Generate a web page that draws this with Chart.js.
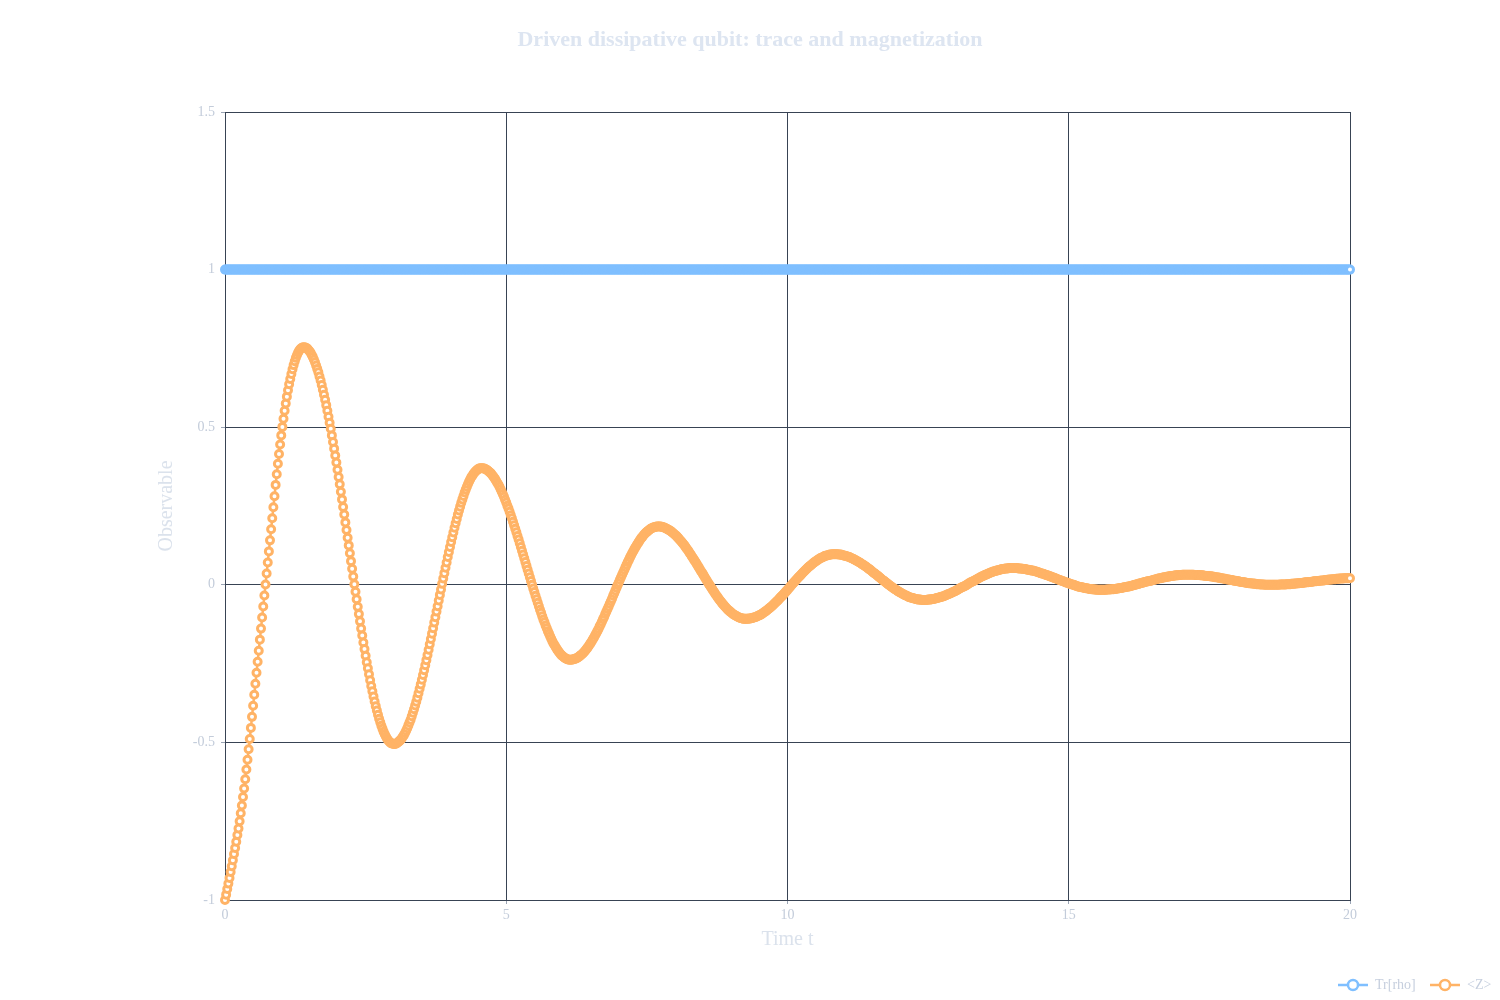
<!DOCTYPE html>
<html>
<head>
<meta charset="utf-8">
<script src="https://cdn.jsdelivr.net/npm/chart.js@4.4.1/dist/chart.umd.min.js"></script>
<style>
html,body{margin:0;padding:0;background:#ffffff;}
#wrap{width:1500px;height:1000px;position:relative;}
</style>
</head>
<body>
<div id="wrap"><canvas id="c" width="1500" height="1000"></canvas></div>
<script>
// ---- data ----
const seriesNames = ['Tr[rho]', '<Z>'];
const timeStep = 0.02;            // sampling interval of the simulation
const xTickStep = 5;
const yTickStep = 0.5;

// <Z>, one small array per half oscillation
const zHalf01 = [-1,-0.983,-0.965,-0.948,-0.930,-0.911,-0.893,-0.874,-0.854,-0.835,-0.815,
-0.794,-0.773,-0.750,-0.725,-0.700,-0.673,-0.646,-0.617,-0.586,-0.555,-0.522,-0.489,
-0.454,-0.419,-0.384,-0.349,-0.314,-0.279,-0.244,-0.209,-0.174,-0.139,-0.104,-0.069,-0.034,0.001,0.036,0.071,0.106,0.141,0.176,0.211,0.246,0.281,0.317,
0.351,0.384,0.415,0.445,0.474,0.501,0.527,0.552,0.575,0.597,0.617,0.636,0.653,0.669,0.684,0.697,0.709,0.720,0.729,0.737,0.743,0.748,0.751,0.753,0.754];
const zHalf02 = [0.753,0.752,0.750,0.746,0.742,0.737,0.730,0.723,0.715,0.706,
0.696,0.685,0.674,0.661,0.648,0.634,0.619,0.603,0.587,0.570,
0.552,0.533,0.514,0.495,0.474,0.453,0.432,0.410,0.388,0.365,
0.342,0.319,0.295,0.271,0.247,0.223,0.198,0.174,0.149,0.125,
0.100,0.075,0.051,0.026,0.002,-0.022,-0.046,-0.070,-0.093,-0.116,
-0.139,-0.161,-0.183,-0.204,-0.225,-0.246,-0.265,-0.284,-0.303,-0.321,
-0.338,-0.354,-0.370,-0.385,-0.399,-0.412,-0.425,-0.436,-0.447,-0.457,
-0.466,-0.474,-0.481,-0.488,-0.493,-0.497,-0.501,-0.503,-0.504,-0.505];
const zHalf03 = [-0.505,-0.504,-0.502,-0.499,-0.496,-0.492,-0.488,-0.482,-0.477,-0.470,
-0.463,-0.455,-0.446,-0.437,-0.428,-0.417,-0.406,-0.395,-0.383,-0.371,
-0.358,-0.344,-0.330,-0.316,-0.301,-0.286,-0.271,-0.255,-0.239,-0.223,
-0.206,-0.189,-0.172,-0.155,-0.138,-0.120,-0.103,-0.085,-0.068,
-0.050,-0.032,-0.015,0.003,0.020,0.037,0.054,0.071,0.088,0.104,
0.120,0.136,0.151,0.166,0.181,0.195,0.209,0.223,0.236,0.248,
0.260,0.271,0.282,0.293,0.302,0.311,0.320,0.328,0.335,0.342,
0.347,0.353,0.357,0.361,0.364,0.367,0.369,0.370,0.370];
const zHalf04 = [0.370,0.369,0.368,0.366,0.364,0.361,0.358,0.355,0.351,0.346,
0.341,0.336,0.330,0.324,0.318,0.311,0.303,0.295,0.287,0.279,
0.270,0.261,0.251,0.242,0.232,0.221,0.211,0.200,0.189,0.178,
0.167,0.155,0.144,0.132,0.120,0.108,0.096,0.084,0.072,
0.060,0.048,0.036,0.024,0.012,0.000,-0.012,-0.023,-0.035,-0.046,
-0.057,-0.068,-0.079,-0.089,-0.100,-0.110,-0.119,-0.129,-0.138,-0.147,
-0.155,-0.163,-0.171,-0.179,-0.186,-0.192,-0.198,-0.204,-0.209,-0.214,
-0.219,-0.223,-0.226,-0.229,-0.232,-0.234,-0.236,-0.237,-0.238,-0.238];
const zHalf05 = [-0.238,-0.237,-0.236,-0.235,-0.234,-0.232,-0.230,-0.227,-0.224,-0.221,
-0.218,-0.214,-0.210,-0.205,-0.201,-0.196,-0.190,-0.185,-0.179,-0.173,
-0.167,-0.160,-0.154,-0.147,-0.140,-0.132,-0.125,-0.117,-0.109,-0.102,
-0.093,-0.085,-0.077,-0.069,-0.060,-0.052,-0.044,-0.035,-0.027,
-0.018,-0.009,-0.001,0.007,0.016,0.024,0.032,0.040,0.048,0.056,
0.064,0.072,0.079,0.087,0.094,0.101,0.107,0.114,0.120,0.126,
0.132,0.137,0.143,0.148,0.152,0.157,0.161,0.165,0.168,0.171,
0.174,0.177,0.179,0.181,0.182,0.183,0.184,0.185,0.185];
const zHalf06 = [0.185,0.185,0.184,0.183,0.182,0.181,0.179,0.177,0.175,0.173,
0.171,0.168,0.165,0.162,0.159,0.156,0.152,0.148,0.144,0.140,
0.136,0.131,0.127,0.122,0.117,0.112,0.107,0.101,0.096,0.090,
0.085,0.079,0.074,0.068,0.062,0.056,0.050,0.044,0.039,
0.033,0.027,0.021,0.015,0.009,0.003,-0.002,-0.008,-0.013,-0.019,
-0.024,-0.030,-0.035,-0.040,-0.045,-0.050,-0.054,-0.059,-0.063,-0.067,
-0.071,-0.075,-0.079,-0.082,-0.085,-0.088,-0.091,-0.094,-0.096,-0.098,
-0.100,-0.102,-0.104,-0.105,-0.106,-0.107,-0.108,-0.108,-0.108];
const zHalf07 = [-0.108,-0.108,-0.107,-0.107,-0.106,-0.105,-0.104,-0.103,-0.102,-0.100,
-0.098,-0.097,-0.095,-0.093,-0.090,-0.088,-0.085,-0.083,-0.080,-0.077,
-0.074,-0.071,-0.068,-0.065,-0.061,-0.058,-0.054,-0.051,-0.047,-0.043,
-0.039,-0.036,-0.032,-0.028,-0.024,-0.020,-0.016,-0.012,-0.008,
-0.003,0.001,0.005,0.009,0.013,0.017,0.021,0.025,0.028,0.032,
0.036,0.040,0.043,0.047,0.050,0.054,0.057,0.060,0.063,0.066,
0.069,0.072,0.074,0.077,0.079,0.082,0.084,0.086,0.087,0.089,
0.091,0.092,0.093,0.094,0.095,0.096,0.096,0.097,0.097,0.097];
const zHalf08 = [0.097,0.097,0.096,0.096,0.096,0.095,0.094,0.093,0.092,0.091,
0.090,0.089,0.088,0.086,0.084,0.083,0.081,0.079,0.077,0.075,
0.073,0.071,0.069,0.066,0.064,0.062,0.059,0.057,0.054,0.051,
0.049,0.046,0.043,0.040,0.037,0.035,0.032,0.029,0.026,
0.023,0.020,0.017,0.014,0.012,0.009,0.006,0.003,0.000,-0.002,
-0.005,-0.008,-0.010,-0.013,-0.015,-0.017,-0.020,-0.022,-0.024,-0.026,
-0.028,-0.030,-0.032,-0.034,-0.035,-0.037,-0.039,-0.040,-0.041,-0.042,
-0.043,-0.044,-0.045,-0.046,-0.047,-0.047,-0.047,-0.048,-0.048,-0.048];
const zHalf09 = [-0.048,-0.048,-0.048,-0.047,-0.047,-0.047,-0.046,-0.045,-0.045,-0.044,
-0.043,-0.042,-0.041,-0.040,-0.039,-0.038,-0.037,-0.036,-0.034,-0.033,
-0.031,-0.030,-0.028,-0.027,-0.025,-0.023,-0.022,-0.020,-0.018,-0.016,
-0.014,-0.012,-0.010,-0.008,-0.006,-0.005,-0.003,-0.001,0.001,
0.004,0.006,0.008,0.010,0.011,0.013,0.015,0.017,0.019,0.021,
0.023,0.025,0.027,0.028,0.030,0.032,0.033,0.035,0.036,0.038,
0.039,0.041,0.042,0.043,0.044,0.045,0.046,0.047,0.048,0.049,
0.050,0.050,0.051,0.052,0.052,0.052,0.053,0.053,0.053,0.053];
const zHalf10 = [0.053,0.053,0.053,0.053,0.052,0.052,0.052,0.051,0.051,0.050,
0.050,0.049,0.048,0.048,0.047,0.046,0.045,0.045,0.044,0.043,
0.042,0.041,0.040,0.038,0.037,0.036,0.035,0.034,0.032,0.031,
0.030,0.029,0.027,0.026,0.025,0.023,0.022,0.021,0.019,
0.018,0.016,0.015,0.014,0.012,0.011,0.010,0.008,0.007,0.006,
0.005,0.003,0.002,0.001,0.000,-0.001,-0.003,-0.004,-0.005,-0.006,
-0.007,-0.008,-0.008,-0.009,-0.010,-0.011,-0.011,-0.012,-0.013,-0.013,
-0.014,-0.014,-0.015,-0.015,-0.015,-0.016,-0.016,-0.016,-0.016,-0.016];
const zHalf11 = [-0.016,-0.016,-0.016,-0.016,-0.015,-0.015,-0.015,-0.015,-0.014,-0.014,
-0.014,-0.013,-0.013,-0.012,-0.012,-0.011,-0.010,-0.010,-0.009,-0.008,
-0.008,-0.007,-0.006,-0.005,-0.005,-0.004,-0.003,-0.002,-0.001,0.000,
0.001,0.002,0.003,0.004,0.005,0.006,0.007,0.008,
0.009,0.010,0.011,0.011,0.012,0.013,0.014,0.015,0.016,0.017,
0.018,0.019,0.020,0.021,0.021,0.022,0.023,0.024,0.024,0.025,
0.026,0.026,0.027,0.028,0.028,0.029,0.029,0.030,0.030,0.030,
0.031,0.031,0.031,0.032,0.032,0.032,0.032,0.032,0.032];
const zHalf12 = [0.032,0.032,0.032,0.032,0.032,0.031,0.031,0.031,0.031,0.031,
0.030,0.030,0.030,0.029,0.029,0.028,0.028,0.028,0.027,0.027,
0.026,0.026,0.025,0.024,0.024,0.023,0.023,0.022,0.021,0.021,
0.020,0.019,0.019,0.018,0.017,0.017,0.016,
0.015,0.015,0.014,0.013,0.013,0.012,0.011,0.011,0.010,0.009,
0.009,0.008,0.008,0.007,0.006,0.006,0.005,0.005,0.004,0.004,
0.004,0.003,0.003,0.002,0.002,0.002,0.001,0.001,0.001,0.001,
0.000,0.000,0.000,0.000,0.000,0.000,0.000];
const zHalf13 = [0.000,0.000,0.000,0.000,0.000,0.000,0.000,0.001,0.001,0.001,
0.001,0.001,0.001,0.002,0.002,0.002,0.002,0.003,0.003,0.003,
0.004,0.004,0.004,0.005,0.005,0.006,0.006,0.006,0.007,0.007,
0.008,0.008,0.008,0.009,0.009,0.010,0.010,0.011,0.011,
0.011,0.012,0.012,0.013,0.013,0.014,0.014,0.014,0.015,0.015,
0.016,0.016,0.017,0.017,0.017,0.018,0.018,0.018,0.019,0.019,
0.019,0.020,0.020,0.020,0.020,0.021,0.021,0.021,0.021,0.021,0.021];

const zValues = [].concat(zHalf01, zHalf02, zHalf03, zHalf04, zHalf05, zHalf06, zHalf07,
  zHalf08, zHalf09, zHalf10, zHalf11, zHalf12, zHalf13);

// Tr[rho]: constant 1 at every sample
const traceValues = [
1,1,1,1,1,1,1,1,1,1,1,1,1,1,1,1,1,1,1,1,1,1,1,1,1,1,1,1,1,1,1,1,1,1,1,1,1,1,1,1,1,1,1,1,1,1,1,1,1,1,
1,1,1,1,1,1,1,1,1,1,1,1,1,1,1,1,1,1,1,1,1,1,1,1,1,1,1,1,1,1,1,1,1,1,1,1,1,1,1,1,1,1,1,1,1,1,1,1,1,1,
1,1,1,1,1,1,1,1,1,1,1,1,1,1,1,1,1,1,1,1,1,1,1,1,1,1,1,1,1,1,1,1,1,1,1,1,1,1,1,1,1,1,1,1,1,1,1,1,1,1,
1,1,1,1,1,1,1,1,1,1,1,1,1,1,1,1,1,1,1,1,1,1,1,1,1,1,1,1,1,1,1,1,1,1,1,1,1,1,1,1,1,1,1,1,1,1,1,1,1,1,
1,1,1,1,1,1,1,1,1,1,1,1,1,1,1,1,1,1,1,1,1,1,1,1,1,1,1,1,1,1,1,1,1,1,1,1,1,1,1,1,1,1,1,1,1,1,1,1,1,1,
1,1,1,1,1,1,1,1,1,1,1,1,1,1,1,1,1,1,1,1,1,1,1,1,1,1,1,1,1,1,1,1,1,1,1,1,1,1,1,1,1,1,1,1,1,1,1,1,1,1,
1,1,1,1,1,1,1,1,1,1,1,1,1,1,1,1,1,1,1,1,1,1,1,1,1,1,1,1,1,1,1,1,1,1,1,1,1,1,1,1,1,1,1,1,1,1,1,1,1,1,
1,1,1,1,1,1,1,1,1,1,1,1,1,1,1,1,1,1,1,1,1,1,1,1,1,1,1,1,1,1,1,1,1,1,1,1,1,1,1,1,1,1,1,1,1,1,1,1,1,1,
1,1,1,1,1,1,1,1,1,1,1,1,1,1,1,1,1,1,1,1,1,1,1,1,1,1,1,1,1,1,1,1,1,1,1,1,1,1,1,1,1,1,1,1,1,1,1,1,1,1,
1,1,1,1,1,1,1,1,1,1,1,1,1,1,1,1,1,1,1,1,1,1,1,1,1,1,1,1,1,1,1,1,1,1,1,1,1,1,1,1,1,1,1,1,1,1,1,1,1,1,
1,1,1,1,1,1,1,1,1,1,1,1,1,1,1,1,1,1,1,1,1,1,1,1,1,1,1,1,1,1,1,1,1,1,1,1,1,1,1,1,1,1,1,1,1,1,1,1,1,1,
1,1,1,1,1,1,1,1,1,1,1,1,1,1,1,1,1,1,1,1,1,1,1,1,1,1,1,1,1,1,1,1,1,1,1,1,1,1,1,1,1,1,1,1,1,1,1,1,1,1,
1,1,1,1,1,1,1,1,1,1,1,1,1,1,1,1,1,1,1,1,1,1,1,1,1,1,1,1,1,1,1,1,1,1,1,1,1,1,1,1,1,1,1,1,1,1,1,1,1,1,
1,1,1,1,1,1,1,1,1,1,1,1,1,1,1,1,1,1,1,1,1,1,1,1,1,1,1,1,1,1,1,1,1,1,1,1,1,1,1,1,1,1,1,1,1,1,1,1,1,1,
1,1,1,1,1,1,1,1,1,1,1,1,1,1,1,1,1,1,1,1,1,1,1,1,1,1,1,1,1,1,1,1,1,1,1,1,1,1,1,1,1,1,1,1,1,1,1,1,1,1,
1,1,1,1,1,1,1,1,1,1,1,1,1,1,1,1,1,1,1,1,1,1,1,1,1,1,1,1,1,1,1,1,1,1,1,1,1,1,1,1,1,1,1,1,1,1,1,1,1,1,
1,1,1,1,1,1,1,1,1,1,1,1,1,1,1,1,1,1,1,1,1,1,1,1,1,1,1,1,1,1,1,1,1,1,1,1,1,1,1,1,1,1,1,1,1,1,1,1,1,1,
1,1,1,1,1,1,1,1,1,1,1,1,1,1,1,1,1,1,1,1,1,1,1,1,1,1,1,1,1,1,1,1,1,1,1,1,1,1,1,1,1,1,1,1,1,1,1,1,1,1,
1,1,1,1,1,1,1,1,1,1,1,1,1,1,1,1,1,1,1,1,1,1,1,1,1,1,1,1,1,1,1,1,1,1,1,1,1,1,1,1,1,1,1,1,1,1,1,1,1,1,
1,1,1,1,1,1,1,1,1,1,1,1,1,1,1,1,1,1,1,1,1,1,1,1,1,1,1,1,1,1,1,1,1,1,1,1,1,1,1,1,1,1,1,1,1,1,1,1,1,1,
1];

// sampling times of the simulation grid (t = i * timeStep)
const times = zValues.map((_, i) => Math.round(i * timeStep * 100) / 100);

// ---- styles ----
const serif = "'Liberation Serif', 'Times New Roman', 'DejaVu Serif', serif";
const gridColor = '#384354';
const tickTextColor = '#c3ccda';
const axisTitleColor = '#dbe2ec';
const colors = ['#7fbfff', '#ffb366'];

function toPoints(values) {
  return values.map((v, i) => ({ x: times[i], y: v }));
}

function datasetFor(idx, values) {
  return {
    label: seriesNames[idx],
    data: toPoints(values),
    borderColor: colors[idx],
    backgroundColor: '#ffffff',
    borderWidth: 2.5,
    pointRadius: 3.5,
    pointBorderWidth: 3,
    pointBackgroundColor: '#ffffff',
    pointBorderColor: colors[idx],
    pointHoverRadius: 3.5,
    tension: 0,
    clip: false,
    xAxisID: 'x',
    yAxisID: 'y'
  };
}

const legendPlugin = {
  id: 'bottomLegend',
  afterDraw(chart) {
    const ctx = chart.ctx;
    const y = 985;
    const items = [
      { x: 1338, text: seriesNames[0], color: colors[0] },
      { x: 1430, text: seriesNames[1], color: colors[1] }
    ];
    ctx.save();
    items.forEach(it => {
      ctx.strokeStyle = it.color;
      ctx.lineWidth = 2.5;
      ctx.beginPath();
      ctx.moveTo(it.x, y);
      ctx.lineTo(it.x + 30, y);
      ctx.stroke();
      ctx.beginPath();
      ctx.arc(it.x + 15, y, 5, 0, Math.PI * 2);
      ctx.fillStyle = '#ffffff';
      ctx.fill();
      ctx.lineWidth = 2.5;
      ctx.stroke();
      ctx.fillStyle = '#c6cfde';
      ctx.font = "14px " + serif;
      ctx.textAlign = 'left';
      ctx.textBaseline = 'middle';
      ctx.fillText(it.text, it.x + 37, y);
    });
    ctx.restore();
  }
};

const fmtTick = v => String(Math.round(v * 100) / 100);

new Chart(document.getElementById('c').getContext('2d'), {
  type: 'line',
  data: {
    datasets: [datasetFor(0, traceValues), datasetFor(1, zValues)]
  },
  options: {
    responsive: false,
    animation: false,
    devicePixelRatio: 1,
    normalized: true,
    events: [],
    layout: { padding: { left: 0, right: 0, top: 0, bottom: 0 } },
    plugins: {
      legend: { display: false },
      tooltip: { enabled: false },
      title: {
        display: true,
        text: 'Driven dissipative qubit: trace and magnetization',
        color: '#dde5f1',
        font: { family: serif, size: 22, weight: 'bold', lineHeight: 1.2 },
        padding: { top: 27, bottom: 58.6 }
      }
    },
    scales: {
      x: {
        type: 'linear',
        min: 0, max: 20,
        ticks: { stepSize: xTickStep, color: tickTextColor, font: { family: serif, size: 14 }, padding: 3, maxRotation: 0, callback: fmtTick },
        grid: { color: gridColor, lineWidth: 1, tickLength: 4, tickColor: '#9aa4b4' },
        border: { color: gridColor, width: 1 },
        title: { display: true, text: 'Time t', color: axisTitleColor, font: { family: serif, size: 20 }, padding: { top: 0, bottom: 48 } },
        afterFit(scale) { scale.height = 100; }
      },
      y: {
        type: 'linear',
        position: 'left',
        min: -1, max: 1.5,
        ticks: { stepSize: yTickStep, color: tickTextColor, font: { family: serif, size: 14 }, padding: 6, callback: fmtTick },
        grid: { color: gridColor, lineWidth: 1, tickLength: 4, tickColor: '#9aa4b4' },
        border: { color: gridColor, width: 1 },
        title: { display: true, text: 'Observable', color: axisTitleColor, font: { family: serif, size: 20 }, padding: { top: 155, bottom: 0 } },
        afterFit(scale) { scale.width = 225; }
      },
      rightSpace: {
        type: 'linear',
        position: 'right',
        min: 0, max: 1,
        display: true,
        ticks: { display: false },
        grid: { display: false, drawTicks: false },
        border: { display: false },
        title: { display: false },
        afterFit(scale) { scale.width = 150; }
      }
    }
  },
  plugins: [legendPlugin]
});
</script>
</body>
</html>
